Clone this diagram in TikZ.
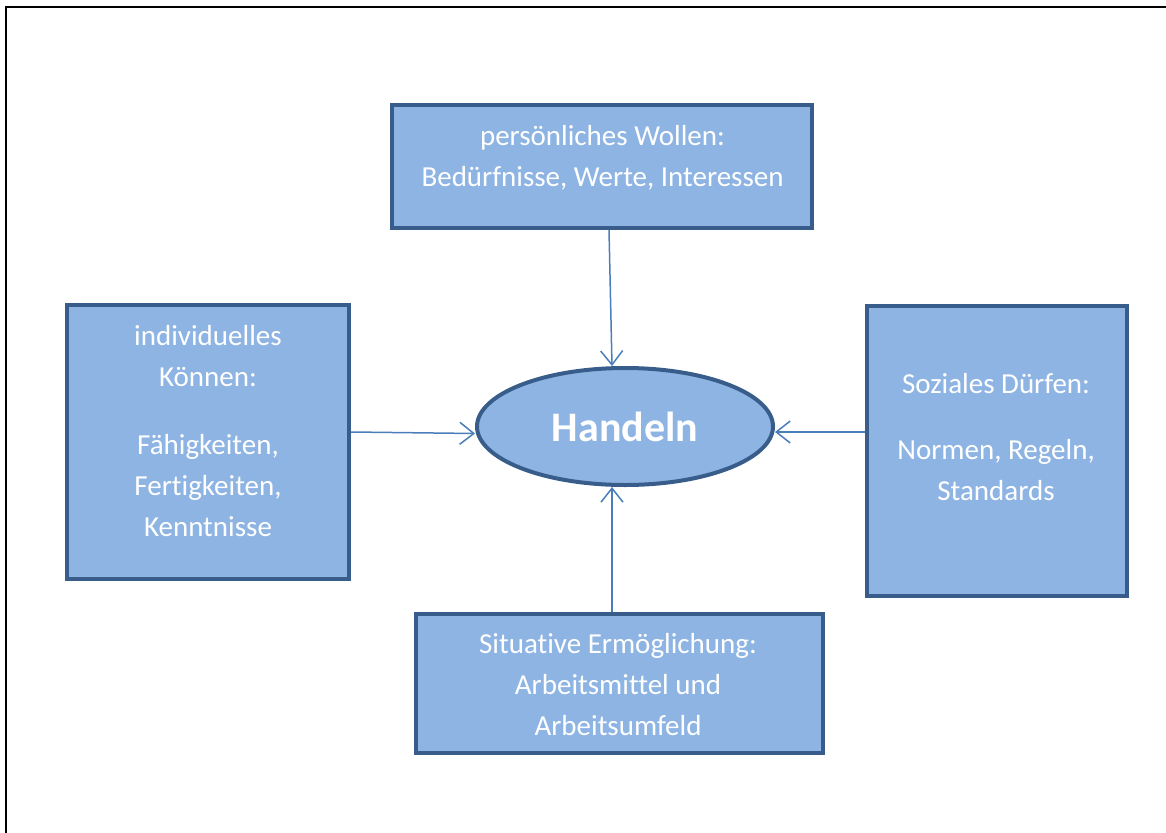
\documentclass[tikz,border=0pt]{standalone}
\usepackage{fontspec}
\setmainfont{Carlito}[Ligatures=NoCommon]
\usetikzlibrary{shapes.geometric,arrows.meta}

\definecolor{boxfill}{HTML}{8EB4E3}
\definecolor{boxline}{HTML}{385D8A}
\definecolor{arrowline}{HTML}{4A7EBB}

\tikzset{
    box/.style={rectangle,draw=boxline,fill=boxfill,line width=4pt},
    boxtext/.style={text=white,align=center,inner sep=0pt,
        font=\fontsize{29}{41}\selectfont},
    arrowedge/.style={draw=arrowline,line width=1.5pt,
        -{Straight Barb[length=14pt,width=22pt,line width=1.5pt]}}
}

\begin{document}
\begin{tikzpicture}[x=1pt,y=-1pt]
        \useasboundingbox (0,0) rectangle (1166,832);
        \draw[line width=2.5pt] (6.2,840) -- (6.2,7.2) -- (1170,7.2);
        \begin{scope}[every node/.style={box}]
            \node[minimum width=420pt,minimum height=123pt] (wollen) at (602,166.5) {};
            \node[minimum width=282pt,minimum height=274pt] (koennen) at (208,442) {};
            \node[minimum width=260pt,minimum height=290pt] (duerfen) at (997,451) {};
            \node[minimum width=407pt,minimum height=139pt] (ermoeglichung) at (619.5,683.5) {};
            \node[ellipse,minimum width=296pt,minimum height=117pt,inner sep=0pt,
                text=white,font=\fontsize{42}{50}\selectfont\bfseries] (handeln) at (625,426.5) {Handeln};
        \end{scope}
        \begin{scope}[every node/.style={boxtext}]
            \node (wollentext) at (602.5,157.5) {persönliches Wollen:\\Bedürfnisse, Werte, Interessen};
            \node (koennentext) at (208,431) {individuelles\\Können:\\[27pt]Fähigkeiten,\\Fertigkeiten,\\Kenntnisse};
            \node (duerfentext) at (996,437) {Soziales Dürfen:\\[25pt]Normen, Regeln,\\Standards};
            \node (ermoeglichungtext) at (618,685) {Situative Ermöglichung:\\Arbeitsmittel und\\Arbeitsumfeld};
        \end{scope}
        \begin{scope}[every edge/.style={arrowedge}]
            \path
                ([xshift=7pt]wollen.south) edge ([xshift=-13pt]handeln.north)
                ([xshift=-7.5pt]ermoeglichung.north) edge ([xshift=-13pt]handeln.south)
                ([yshift=10pt]koennen.east) edge ([yshift=-7pt]handeln.west)
                ([yshift=19pt]duerfen.west) edge ([yshift=-5.5pt]handeln.east);
        \end{scope}
    \end{tikzpicture}
\end{document}
